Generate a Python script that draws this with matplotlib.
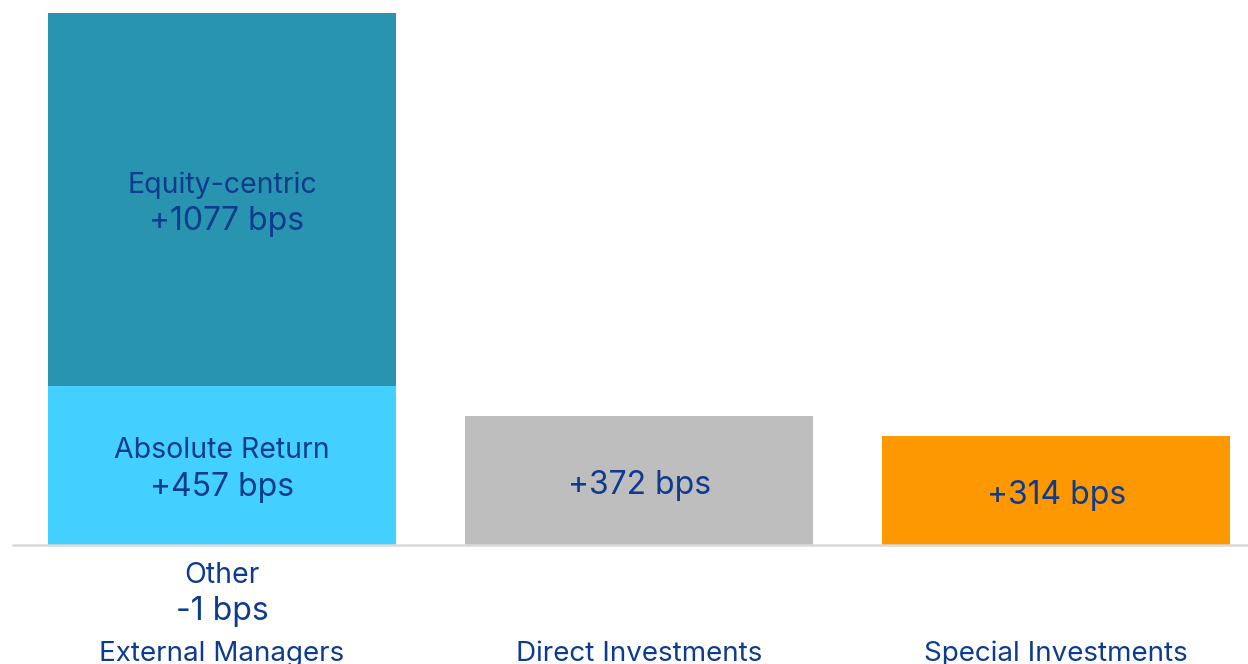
import matplotlib
matplotlib.use("Agg")
import matplotlib.pyplot as plt
import numpy as np

plt.rcParams["font.family"] = ["Inter", "DejaVu Sans"]

categories = ["External Managers", "Direct Investments", "Special Investments"]
absolute_return = [457, 0, 0]
equity_centric = [1077, 0, 0]
other = [-1, 0, 0]
direct = [0, 372, 0]
special = [0, 0, 314]

text_col = "#0d3b8e"
lab_fs = 20.5
val_fs = 23
x = np.arange(len(categories))
w = 0.835

fig = plt.figure(figsize=(12.48, 6.64), dpi=100)
ax = fig.add_axes([13 / 1248, 119 / 664, 1235 / 1248, 545 / 664])

ax.bar(x[0], absolute_return[0], w, color="#44d0ff")
ax.bar(x[0], equity_centric[0], w, bottom=absolute_return[0], color="#2894b0")
ax.bar(x[0], other[0], w, color="#1f4e9c")
ax.bar(x[1], direct[1], w, color="#bebebe")
ax.bar(x[2], special[2], w, color="#fd9800")


def put(xp, yp, s, dy, fs):
    ax.annotate(s, (xp, yp), xytext=(0, dy), textcoords="offset points",
                ha="center", va="center", fontsize=fs, color=text_col,
                annotation_clip=False)


put(x[0], absolute_return[0] / 2, "Absolute Return", 10.7, lab_fs)
put(x[0], absolute_return[0] / 2, f"+{absolute_return[0]} bps", -15.5, val_fs)
mid = absolute_return[0] + equity_centric[0] / 2
put(x[0], mid, "Equity-centric", 10.7, lab_fs)
put(x[0], mid, f" +{equity_centric[0]} bps", -15.5, val_fs)
put(x[1], direct[1] / 2, f"+{direct[1]} bps", -3.5, val_fs)
put(x[2], special[2] / 2, f"+{special[2]} bps", -3.5, val_fs)

# "Other" below the axis
put(x[0], 0, "Other", -21.7, lab_fs)
put(x[0], 0, f"{other[0]} bps", -47.6, val_fs)

ax.set_xlim(-0.5012, 2.46)
ax.set_ylim(0, 1571)
ax.set_xticks(x, categories, fontsize=20, color=text_col)
ax.tick_params(axis="x", length=0, pad=69)
ax.set_yticks([])
for s in ["top", "right", "left"]:
    ax.spines[s].set_visible(False)
ax.spines["bottom"].set_color("#d9d9d9")
ax.spines["bottom"].set_linewidth(1.8)

fig.savefig("out.png", dpi=100)
